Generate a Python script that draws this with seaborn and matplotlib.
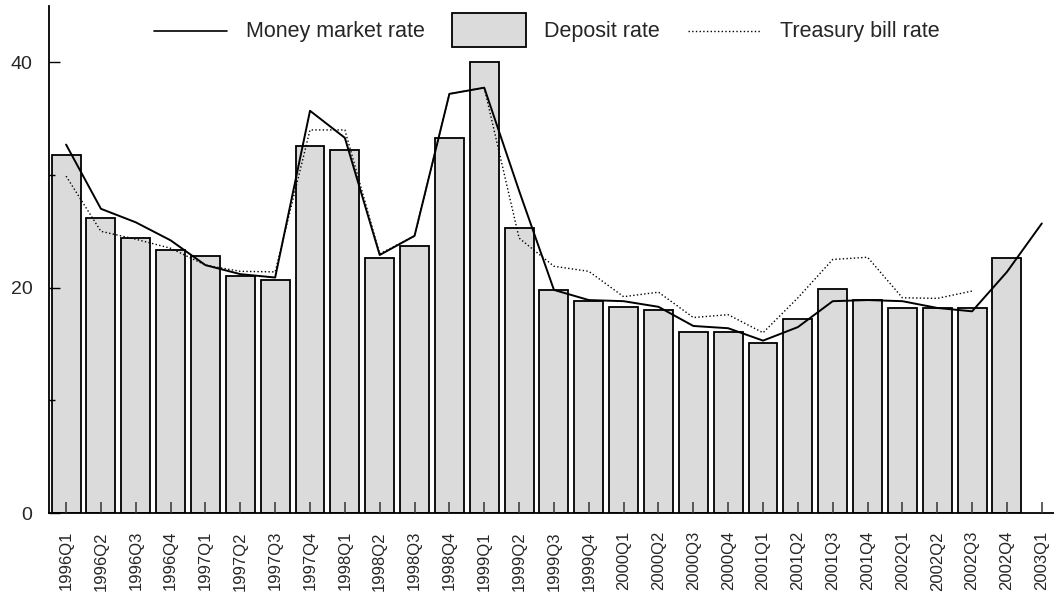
import numpy as np
import pandas as pd
import seaborn as sns
import matplotlib.pyplot as plt
from matplotlib.lines import Line2D
from matplotlib.patches import Patch
from matplotlib.legend_handler import HandlerLine2D

quarters = [
    "1996Q1", "1996Q2", "1996Q3", "1996Q4", "1997Q1", "1997Q2", "1997Q3", "1997Q4",
    "1998Q1", "1998Q2", "1998Q3", "1998Q4", "1999Q1", "1999Q2", "1999Q3", "1999Q4",
    "2000Q1", "2000Q2", "2000Q3", "2000Q4", "2001Q1", "2001Q2", "2001Q3", "2001Q4",
    "2002Q1", "2002Q2", "2002Q3", "2002Q4", "2003Q1",
]

deposit_rate = [
    31.8, 26.2, 24.4, 23.3, 22.8, 21.0, 20.7, 32.6,
    32.2, 22.6, 23.7, 33.3, 40.0, 25.3, 19.8, 18.8,
    18.3, 18.0, 16.1, 16.1, 15.1, 17.2, 19.9, 18.9,
    18.2, 18.2, 18.2, 22.6, np.nan,
]

money_market_rate = [
    32.7, 27.0, 25.8, 24.2, 22.0, 21.2, 20.9, 35.7,
    33.3, 22.9, 24.6, 37.2, 37.75, 28.6, 19.8, 18.9,
    18.8, 18.3, 16.6, 16.4, 15.3, 16.5, 18.8, 18.9,
    18.8, 18.2, 17.9, 21.4, 25.7,
]

treasury_bill_rate = [
    29.9, 25.0, 24.3, 23.5, 22.0, 21.45, 21.4, 34.0,
    34.0, 23.0, 24.6, 37.2, 37.75, 24.4, 21.9, 21.45,
    19.2, 19.6, 17.35, 17.6, 16.0, 19.1, 22.5, 22.7,
    19.1, 19.05, 19.7, np.nan, np.nan,
]

df = pd.DataFrame({
    "quarter": quarters,
    "pos": np.arange(len(quarters)),
    "deposit": deposit_rate,
    "money": money_market_rate,
    "tbill": treasury_bill_rate,
})


# legend lines centred on the box like the patch, not lifted by the descent
class CentredLine(HandlerLine2D):
    def create_artists(self, legend, orig_handle, xdescent, ydescent,
                       width, height, fontsize, trans):
        arts = super().create_artists(legend, orig_handle, xdescent, ydescent,
                                      width, height, fontsize, trans)
        for a in arts:
            y = np.asarray(a.get_ydata(), dtype=float)
            a.set_ydata(np.full_like(y, height / 2 - ydescent - 0.5))
        return arts


sns.set_style("white")
plt.rcParams["font.family"] = ["Liberation Sans", "DejaVu Sans"]

fig = plt.figure(figsize=(10.54, 5.97), dpi=100)
ax = fig.add_axes([49 / 1054, 84 / 597, 1005 / 1054, 507 / 597])

sns.barplot(data=df, x="quarter", y="deposit", order=quarters, color="#dbdbdb",
            saturation=1, width=0.83, edgecolor="black", linewidth=1.3, ax=ax)
sns.lineplot(data=df, x="pos", y="money", color="black", linewidth=1.4, ax=ax)
sns.lineplot(data=df.dropna(subset=["tbill"]), x="pos", y="tbill", color="black",
             linewidth=1.0, linestyle=":", ax=ax)

# ticks sit on top of the bars, as in the original
for p in ax.patches:
    p.set_zorder(0.8)
ax.set_axisbelow(False)
ax.xaxis.set_zorder(3)
ax.yaxis.set_zorder(3)

ax.set_xlim(-0.49, 28.35)
ax.set_ylim(0, 45)
ax.set_xlabel("")
ax.set_ylabel("")
ax.set_xticks(range(len(quarters)))
ax.set_xticklabels(quarters, rotation=90, fontsize=12)
ax.set_yticks([0, 20, 40])
ax.set_yticks([10, 30], minor=True)
ax.tick_params(axis="y", which="major", direction="in", length=8, width=1,
               color="black", labelsize=14, pad=12, left=True)
ax.tick_params(axis="y", which="minor", direction="in", length=4, width=1,
               color="black", left=True)
ax.tick_params(axis="x", direction="in", length=8, width=1.1, color="#333333",
               pad=13, bottom=True)

for side in ["top", "right"]:
    ax.spines[side].set_visible(False)
for side in ["left", "bottom"]:
    ax.spines[side].set_color("black")
    ax.spines[side].set_linewidth(1.3)

handles = [
    Line2D([0], [0], color="black", linewidth=1.2),
    Patch(facecolor="#dbdbdb", edgecolor="black", linewidth=1.3),
    Line2D([0], [0], color="black", linewidth=1.0, linestyle=":"),
]
labels = ["Money market rate", "Deposit rate", "Treasury bill rate"]
ax.legend(handles, labels, ncol=3, frameon=False, fontsize=15.5,
          loc="upper center", bbox_to_anchor=(0.495, 1.025),
          handlelength=3.4, handleheight=2.1, handletextpad=0.86,
          columnspacing=1.3, handler_map={Line2D: CentredLine()})

fig.savefig("out.png", dpi=100)
